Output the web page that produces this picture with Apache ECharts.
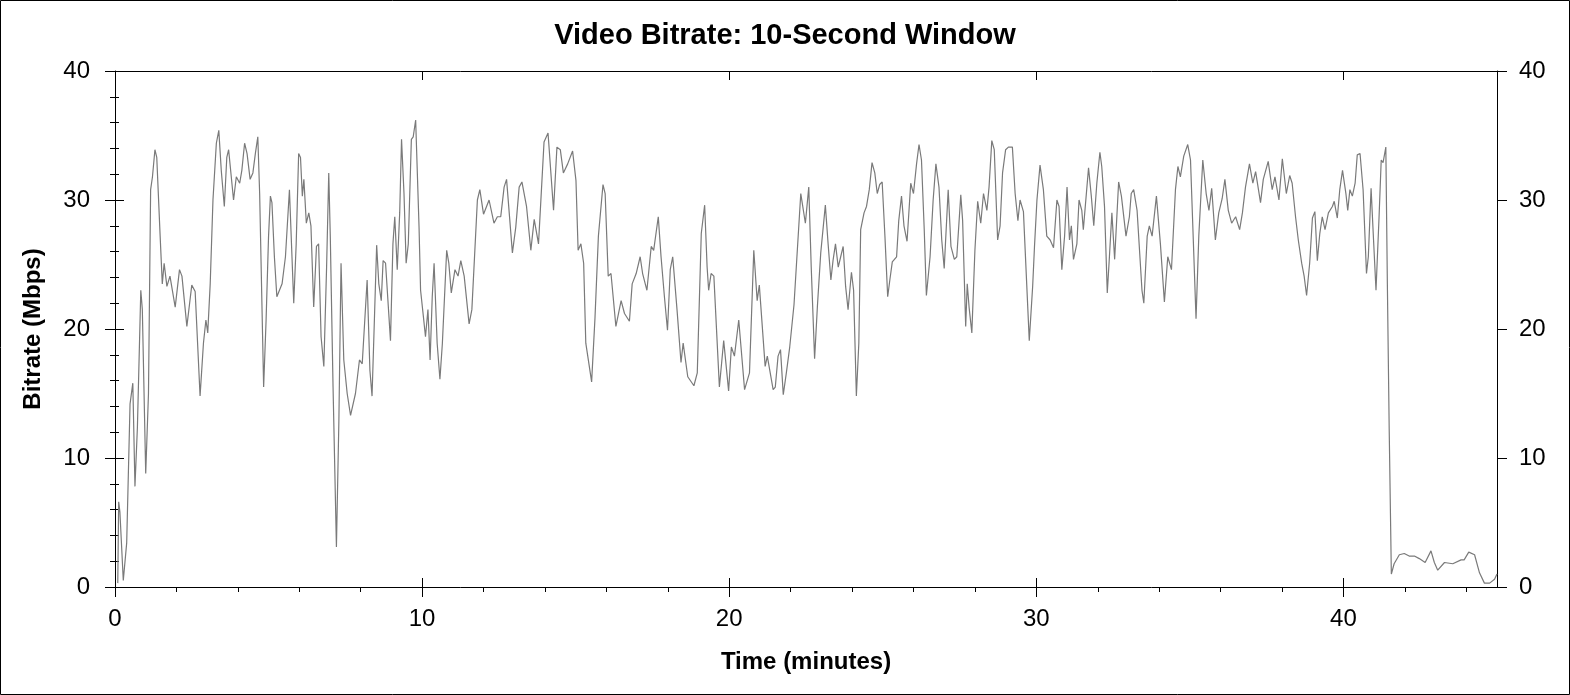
<!DOCTYPE html>
<html>
<head>
<meta charset="utf-8">
<title>Video Bitrate: 10-Second Window</title>
<script src="https://cdn.jsdelivr.net/npm/echarts@6/dist/echarts.min.js"></script>
<style>
  html, body { margin: 0; padding: 0; background: #fff; }
  #chart { width: 1570px; height: 695px; }
</style>
</head>
<body>
<div id="chart"></div>
<script>
// time in minutes, bitrate in Mbps
const minutes = [
  0.09, 0.12, 0.16, 0.27, 0.38, 0.49, 0.58, 0.65, 0.73, 0.84, 0.89, 1.0, 1.09, 1.16, 1.22, 1.3, 1.36, 1.47, 1.54, 1.6,
  1.69, 1.79, 1.96, 2.1, 2.18, 2.34, 2.43, 2.5, 2.61, 2.77, 2.88, 2.96, 3.02, 3.1, 3.19, 3.3, 3.38, 3.46, 3.56, 3.64,
  3.7, 3.86, 3.95, 4.06, 4.13, 4.22, 4.3, 4.4, 4.49, 4.57, 4.65, 4.71, 4.84, 4.92, 5.0, 5.06, 5.11, 5.19, 5.27, 5.33,
  5.44, 5.55, 5.68, 5.82, 5.9, 5.98, 6.04, 6.1, 6.15, 6.23, 6.31, 6.38, 6.47, 6.56, 6.63, 6.71, 6.8, 6.89, 6.96, 7.01,
  7.1, 7.21, 7.29, 7.36, 7.45, 7.56, 7.67, 7.83, 7.96, 8.05, 8.21, 8.3, 8.37, 8.45, 8.52, 8.59, 8.67, 8.73, 8.81, 8.97,
  9.05, 9.11, 9.19, 9.27, 9.33, 9.41, 9.48, 9.55, 9.65, 9.71, 9.79, 9.9, 9.95, 10.04, 10.11, 10.19, 10.26, 10.33, 10.39, 10.49,
  10.58, 10.66, 10.8, 10.87, 10.95, 11.07, 11.17, 11.26, 11.37, 11.53, 11.62, 11.8, 11.88, 12.0, 12.18, 12.34, 12.45, 12.56, 12.67, 12.75,
  12.94, 13.05, 13.16, 13.25, 13.4, 13.54, 13.65, 13.79, 13.97, 14.1, 14.28, 14.39, 14.5, 14.6, 14.74, 14.9, 15.01, 15.08, 15.17, 15.26,
  15.33, 15.52, 15.63, 15.74, 15.89, 15.96, 16.06, 16.15, 16.31, 16.48, 16.59, 16.75, 16.84, 16.97, 17.1, 17.18, 17.32, 17.46, 17.54, 17.69,
  17.78, 17.89, 17.99, 18.08, 18.16, 18.3, 18.43, 18.5, 18.65, 18.85, 18.96, 19.09, 19.2, 19.28, 19.33, 19.41, 19.5, 19.68, 19.82, 19.98,
  20.07, 20.17, 20.31, 20.5, 20.66, 20.8, 20.91, 20.98, 21.17, 21.24, 21.43, 21.5, 21.59, 21.67, 21.76, 21.86, 21.97, 22.11, 22.33, 22.48,
  22.59, 22.67, 22.78, 22.87, 22.98, 23.13, 23.22, 23.31, 23.38, 23.46, 23.55, 23.63, 23.71, 23.79, 23.87, 23.98, 24.05, 24.14, 24.22, 24.28,
  24.39, 24.47, 24.56, 24.65, 24.74, 24.82, 24.9, 24.98, 25.07, 25.16, 25.23, 25.31, 25.45, 25.52, 25.61, 25.69, 25.79, 25.91, 26.0, 26.1,
  26.18, 26.26, 26.35, 26.42, 26.54, 26.64, 26.73, 26.83, 26.92, 27.0, 27.13, 27.22, 27.33, 27.41, 27.54, 27.6, 27.7, 27.75, 27.81, 27.9,
  28.0, 28.09, 28.19, 28.28, 28.39, 28.46, 28.55, 28.63, 28.74, 28.82, 28.9, 29.0, 29.09, 29.22, 29.31, 29.4, 29.47, 29.58, 29.77, 29.88,
  29.94, 30.02, 30.12, 30.23, 30.34, 30.45, 30.56, 30.67, 30.74, 30.83, 30.92, 31.0, 31.08, 31.14, 31.21, 31.32, 31.39, 31.48, 31.53, 31.7,
  31.79, 31.87, 31.97, 32.07, 32.13, 32.22, 32.31, 32.38, 32.46, 32.55, 32.68, 32.77, 32.92, 33.03, 33.09, 33.17, 33.28, 33.44, 33.5, 33.61,
  33.68, 33.77, 33.91, 34.04, 34.17, 34.28, 34.4, 34.53, 34.61, 34.69, 34.8, 34.93, 35.02, 35.13, 35.2, 35.29, 35.42, 35.53, 35.62, 35.71,
  35.83, 35.94, 36.05, 36.14, 36.25, 36.36, 36.49, 36.62, 36.71, 36.81, 36.94, 37.05, 37.14, 37.3, 37.39, 37.55, 37.68, 37.77, 37.9, 38.01,
  38.14, 38.25, 38.33, 38.44, 38.53, 38.64, 38.72, 38.8, 38.9, 38.99, 39.07, 39.15, 39.23, 39.31, 39.4, 39.51, 39.64, 39.7, 39.8, 39.88,
  39.97, 40.08, 40.14, 40.21, 40.29, 40.38, 40.45, 40.54, 40.64, 40.75, 40.81, 40.9, 40.98, 41.06, 41.16, 41.23, 41.29, 41.38, 41.43, 41.49,
  41.56, 41.65, 41.82, 41.98, 42.14, 42.31, 42.47, 42.66, 42.85, 42.96, 43.07, 43.29, 43.56, 43.83, 43.93, 44.08, 44.27, 44.43, 44.59, 44.76,
  44.92, 45.0
];
const bitrate = [
  0.3, 6.6, 5.8, 0.5, 3.4, 14.2, 15.8, 7.8, 12.4, 23.0, 21.5, 8.8, 15.0, 30.8, 31.8, 33.9, 33.3, 27.2, 23.5, 25.1,
  23.3, 24.1, 21.7, 24.6, 24.1, 20.2, 22.0, 23.4, 22.9, 14.8, 18.9, 20.7, 19.7, 23.5, 30.0, 34.4, 35.4, 32.3, 29.5, 33.3,
  33.9, 30.0, 31.8, 31.3, 32.3, 34.4, 33.6, 31.6, 32.1, 33.6, 34.9, 30.5, 15.5, 20.7, 27.2, 30.3, 29.8, 25.6, 22.5, 22.5,
  23.5, 25.6, 30.8, 22.0, 26.6, 33.6, 33.3, 30.3, 31.6, 28.2, 29.0, 28.0, 21.7, 26.4, 26.6, 19.4, 17.1, 24.8, 32.1, 27.2,
  15.5, 3.1, 12.9, 25.1, 17.6, 15.0, 13.3, 15.0, 17.6, 17.3, 23.8, 16.8, 14.8, 21.0, 26.5, 23.5, 22.2, 25.3, 25.1, 19.1,
  26.6, 28.7, 24.6, 29.0, 34.7, 30.5, 25.1, 26.6, 34.7, 34.9, 36.2, 27.9, 23.0, 21.0, 19.4, 21.5, 17.6, 22.5, 25.1, 18.9,
  16.1, 18.9, 26.1, 25.1, 22.8, 24.6, 24.1, 25.3, 24.1, 20.4, 21.5, 30.0, 30.8, 28.9, 30.0, 28.2, 28.7, 28.7, 31.0, 31.6,
  25.9, 27.9, 31.0, 31.4, 29.5, 26.1, 28.5, 26.6, 34.5, 35.2, 29.2, 34.1, 33.9, 32.1, 32.8, 33.8, 31.5, 26.1, 26.6, 25.1,
  18.9, 15.9, 20.9, 27.2, 31.2, 30.5, 24.1, 24.3, 20.2, 22.2, 21.2, 20.6, 23.5, 24.3, 25.6, 24.3, 23.0, 26.4, 26.1, 28.7,
  25.6, 22.5, 19.9, 24.6, 25.6, 21.5, 17.4, 18.9, 16.3, 15.6, 16.6, 27.4, 29.6, 24.8, 23.0, 24.3, 24.1, 15.5, 19.1, 15.2,
  18.6, 17.9, 20.7, 15.3, 16.6, 26.1, 22.2, 23.4, 17.1, 17.9, 15.3, 15.5, 17.9, 18.4, 14.9, 16.6, 18.6, 21.9, 30.5, 28.2,
  31.0, 24.8, 17.7, 21.7, 25.9, 29.6, 26.6, 23.8, 25.3, 26.6, 24.8, 25.6, 26.4, 23.3, 21.5, 24.4, 23.0, 14.8, 18.9, 27.7,
  29.0, 29.5, 30.8, 32.9, 32.1, 30.5, 31.2, 31.4, 27.2, 22.5, 23.8, 25.2, 25.6, 28.4, 30.3, 28.0, 26.8, 31.3, 30.5, 32.8,
  34.3, 33.1, 27.7, 22.6, 25.6, 30.0, 32.8, 31.0, 26.9, 24.7, 30.8, 26.4, 25.4, 25.6, 30.4, 28.4, 20.2, 23.5, 21.7, 19.7,
  26.1, 29.9, 28.2, 30.5, 29.2, 31.0, 34.6, 33.9, 26.9, 28.0, 32.1, 33.9, 34.1, 34.1, 30.5, 28.4, 30.0, 29.1, 19.1, 23.3,
  26.4, 30.0, 32.7, 30.8, 27.2, 26.9, 26.3, 30.0, 29.5, 24.6, 27.2, 31.0, 26.9, 28.0, 25.4, 26.6, 30.0, 29.2, 27.7, 32.5,
  30.3, 28.0, 31.3, 33.7, 32.6, 29.5, 22.8, 25.6, 29.0, 25.4, 31.4, 30.3, 27.2, 28.7, 30.5, 30.8, 29.2, 23.0, 22.0, 27.2,
  28.0, 27.2, 30.3, 26.6, 22.1, 25.6, 24.6, 30.8, 32.6, 31.8, 33.4, 34.3, 33.1, 25.6, 20.8, 27.2, 33.1, 30.5, 29.2, 30.9,
  26.9, 29.0, 30.1, 31.6, 29.2, 28.2, 28.7, 27.7, 29.0, 31.0, 32.8, 31.3, 32.2, 29.8, 31.6, 33.0, 30.8, 31.8, 30.0, 33.2,
  30.5, 31.9, 31.3, 28.7, 26.9, 25.1, 24.1, 22.6, 25.1, 28.6, 29.1, 25.3, 27.4, 28.7, 27.7, 29.0, 29.5, 29.9, 28.6, 30.8,
  32.3, 30.5, 29.2, 30.8, 30.3, 31.3, 33.5, 33.6, 30.8, 24.3, 25.6, 30.9, 26.9, 23.0, 28.7, 33.1, 32.9, 34.1, 23.5, 12.2,
  1.0, 1.8, 2.5, 2.6, 2.4, 2.4, 2.2, 1.9, 2.8, 1.9, 1.3, 1.9, 1.8, 2.1, 2.1, 2.7, 2.5, 1.1, 0.3, 0.3,
  0.6, 1.0
];

const xMajor = [0, 10, 20, 30, 40];
const xMinor = [2, 4, 6, 8, 12, 14, 16, 18, 22, 24, 26, 28, 32, 34, 36, 38, 42, 44];
const yMajor = [0, 10, 20, 30, 40];
const yMinor = [2, 4, 6, 8, 12, 14, 16, 18, 22, 24, 26, 28, 32, 34, 36, 38];

const FONT = 'Arial, "Liberation Sans", sans-serif';

const chart = echarts.init(document.getElementById('chart'));

// helper for the extra tick-only axes (crossing ticks, minor ticks)
const tickAxis = (position, values, length, inside, max) => ({
  type: 'value',
  position: position,
  min: 0,
  max: max,
  axisLine: { show: false },
  splitLine: { show: false },
  axisLabel: { show: false },
  axisTick: {
    show: true,
    inside: inside,
    length: length,
    customValues: values,
    lineStyle: { color: '#000', width: 1 }
  }
});

const option = {
  animation: false,
  backgroundColor: '#fff',
  title: {
    text: 'Video Bitrate: 10-Second Window',
    left: 'center',
    top: 16,
    textStyle: { fontFamily: FONT, fontSize: 29, fontWeight: 'bold', color: '#000' }
  },
  grid: { left: 115, right: 73, top: 71, bottom: 108, containLabel: false },
  xAxis: [
    {
      type: 'value',
      position: 'bottom',
      min: 0,
      max: 45,
      name: 'Time (minutes)',
      nameLocation: 'middle',
      nameGap: 63,
      nameTextStyle: { fontFamily: FONT, fontSize: 24, fontWeight: 'bold', color: '#000' },
      axisLine: { show: true, onZero: false, lineStyle: { color: '#000', width: 1 } },
      axisTick: { show: true, length: 10, customValues: xMajor, lineStyle: { color: '#000' } },
      axisLabel: { customValues: xMajor, fontFamily: FONT, fontSize: 24, color: '#000', margin: 20 },
      splitLine: { show: false }
    },
    tickAxis('bottom', xMajor, 9, true, 45),
    tickAxis('bottom', xMinor, 5, false, 45),
    Object.assign(tickAxis('top', xMajor, 9, true, 45), {
      axisLine: { show: true, onZero: false, lineStyle: { color: '#000', width: 1 } }
    }),
    tickAxis('top', xMinor, 4, true, 45)
  ],
  yAxis: [
    {
      type: 'value',
      position: 'left',
      min: 0,
      max: 40,
      name: 'Bitrate (Mbps)',
      nameLocation: 'middle',
      nameGap: 70,
      nameTextStyle: { fontFamily: FONT, fontSize: 24, fontWeight: 'bold', color: '#000' },
      axisLine: { show: true, onZero: false, lineStyle: { color: '#000', width: 1 } },
      axisTick: { show: true, length: 10, customValues: yMajor, lineStyle: { color: '#000' } },
      axisLabel: { customValues: yMajor, fontFamily: FONT, fontSize: 24, color: '#000', margin: 25 },
      splitLine: { show: false }
    },
    tickAxis('left', yMajor, 9, true, 40),
    tickAxis('left', yMinor, 5, false, 40),
    tickAxis('left', yMinor, 4, true, 40),
    {
      type: 'value',
      position: 'right',
      min: 0,
      max: 40,
      axisLine: { show: true, onZero: false, lineStyle: { color: '#000', width: 1 } },
      axisTick: { show: true, length: 10, customValues: yMajor, lineStyle: { color: '#000' } },
      axisLabel: { customValues: yMajor, fontFamily: FONT, fontSize: 24, color: '#000', margin: 22 },
      splitLine: { show: false }
    },
    tickAxis('right', yMajor, 9, true, 40),
    tickAxis('right', yMinor, 4, true, 40)
  ],
  series: [
    {
      type: 'line',
      xAxisIndex: 0,
      yAxisIndex: 0,
      data: minutes.map((m, i) => [m, bitrate[i]]),
      showSymbol: false,
      symbol: 'none',
      lineStyle: { color: '#7a7a7a', width: 1.2 },
      z: 1
    }
  ],
  graphic: [
    {
      type: 'rect',
      shape: { x: 0.5, y: 0.5, width: 1569, height: 694 },
      style: { fill: 'none', stroke: '#000', lineWidth: 1 },
      silent: true
    }
  ]
};

chart.setOption(option);
</script>
</body>
</html>
